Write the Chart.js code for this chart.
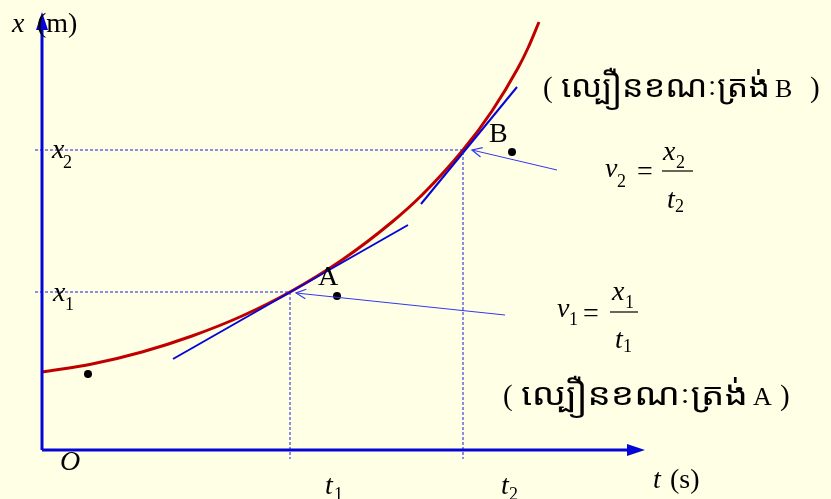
<!DOCTYPE html>
<html>
<head>
<meta charset="utf-8">
<script src="https://cdn.jsdelivr.net/npm/chart.js@4"></script>
<style>
  html, body { margin: 0; padding: 0; background: #ffffe6; }
  canvas { display: block; }
</style>
</head>
<body>
<canvas id="motion" width="831" height="499"></canvas>
<script>
// x(t) curve (t and x in arbitrary units)
const curveT = [0, 5, 10, 15, 20, 24.8, 30, 35, 38, 42.1, 45, 47.6, 48.6, 49.7];
const curveX = [7.8, 8.6, 9.8, 11.4, 13.4, 15.8, 19.0, 22.8, 25.5, 30.0, 33.9, 38.2, 40.2, 42.8];
// tangent segments at A and B
const tangentAT = [13.1, 36.6];
const tangentAX = [9.1, 22.5];
const tangentBT = [37.9, 47.5];
const tangentBX = [24.6, 36.3];
// points A and B (t1,x1), (t2,x2)
const pointT = [24.8, 42.1];
const pointX = [15.8, 30.0];
// black dots
const dotT = [4.6, 29.5, 47.0];
const dotX = [7.6, 15.4, 29.8];
// thin pointer arrows (from label to point)
const arrowFromT = [46.3, 51.5];
const arrowFromX = [13.5, 28.0];
const arrowToT = [25.4, 43.0];
const arrowToX = [15.7, 30.0];
// axis lengths
const axisEndT = 60.3;
const axisEndX = 43.8;

const khmer = "ល្បឿនខណៈត្រង់";
const BLUE = "#0505d8";
const SERIF = "'Liberation Serif', 'DejaVu Serif', serif";

function pts(ts, xs) {
  return ts.map((t, i) => ({ x: t, y: xs[i] }));
}

const datasets = [
  {
    data: [{ x: 0, y: 0 }, { x: axisEndT - 1.5, y: 0 }],
    borderColor: BLUE, borderWidth: 3,
  },
  {
    data: [{ x: 0, y: 0 }, { x: 0, y: axisEndX - 1.5 }],
    borderColor: BLUE, borderWidth: 3,
  },
];
pointT.forEach((t, i) => {
  datasets.push({
    data: [{ x: -0.7, y: pointX[i] }, { x: t, y: pointX[i] }, { x: t, y: -0.9 }],
    borderColor: "#1a1ae0", borderWidth: 1, borderDash: [3, 2],
  });
});
datasets.push(
  { data: pts(tangentAT, tangentAX), borderColor: BLUE, borderWidth: 2 },
  { data: pts(tangentBT, tangentBX), borderColor: BLUE, borderWidth: 2 },
  { data: pts(curveT, curveX), borderColor: "#c00000", borderWidth: 3, cubicInterpolationMode: "monotone" }
);
arrowFromT.forEach((t, i) => {
  datasets.push({
    data: [{ x: t, y: arrowFromX[i] }, { x: arrowToT[i], y: arrowToX[i] }],
    borderColor: "#3535f5", borderWidth: 1,
  });
});
datasets.push({
  data: pts(dotT, dotX),
  showLine: false, pointRadius: 4, pointBackgroundColor: "#000", pointBorderWidth: 0,
});

// text labels: [text, t, x, size, italic]
const labels = [
  ["x", -3.0, 41.8, 28, true],
  ["(m)", -0.5, 41.8, 28, false],
  ["O", 1.8, -2.0, 28, true],
  ["t", 61.1, -3.8, 28, true],
  ["(s)", 62.8, -3.8, 28, false],
  ["t", 28.3, -4.4, 28, true],
  ["1", 29.2, -4.95, 18, false],
  ["t", 45.9, -4.4, 28, true],
  ["2", 46.7, -4.95, 18, false],
  ["x", 1.0, 29.2, 28, true],
  ["2", 2.1, 28.2, 18, false],
  ["x", 1.1, 14.9, 28, true],
  ["1", 2.3, 14.0, 18, false],
  ["A", 27.6, 16.5, 28, false],
  ["B", 44.7, 30.8, 28, false],
  // v2 = x2 / t2
  ["v", 56.3, 27.3, 28, true],
  ["2", 57.5, 26.3, 18, false],
  ["=", 59.5, 27.0, 28, false],
  ["x", 62.1, 29.0, 28, true],
  ["2", 63.4, 28.2, 18, false],
  ["t", 62.5, 24.2, 28, true],
  ["2", 63.3, 23.8, 18, false],
  // v1 = x1 / t1
  ["v", 51.5, 13.3, 28, true],
  ["1", 52.7, 12.5, 18, false],
  ["=", 54.1, 12.8, 28, false],
  ["x", 57.0, 15.0, 28, true],
  ["1", 58.3, 14.2, 18, false],
  ["t", 57.3, 10.2, 28, true],
  ["1", 58.1, 9.8, 18, false],
];
const fractionBars = [[62.0, 65.1, 27.9], [56.8, 59.6, 13.8]];
// Khmer captions: [letter, t of "(", t start, t end of Khmer word, t letter, t ")", baseline x]
const captions = [
  ["B", 50.1, 51.9, 72.8, 73.3, 76.8, 35.3],
  ["A", 46.1, 47.9, 70.6, 71.1, 73.8, 4.5],
];

const drawExtras = {
  id: "drawExtras",
  afterDatasetsDraw(chart) {
    const ctx = chart.ctx;
    const sx = chart.scales.x, sy = chart.scales.y;
    const px = (t) => sx.getPixelForValue(t);
    const py = (x) => sy.getPixelForValue(x);
    ctx.save();

    // axis arrow heads
    ctx.fillStyle = BLUE;
    const ox = px(0), oy = py(0);
    const tipX = px(axisEndT), tipY = py(axisEndX);
    ctx.beginPath();
    ctx.moveTo(tipX, oy);
    ctx.lineTo(tipX - 18, oy - 6);
    ctx.lineTo(tipX - 18, oy + 6);
    ctx.closePath();
    ctx.fill();
    ctx.beginPath();
    ctx.moveTo(ox, tipY);
    ctx.lineTo(ox - 6, tipY + 18);
    ctx.lineTo(ox + 6, tipY + 18);
    ctx.closePath();
    ctx.fill();

    // pointer arrow heads (open)
    ctx.strokeStyle = "#3535f5";
    ctx.lineWidth = 1.2;
    arrowToT.forEach((t, i) => {
      const x2 = px(t), y2 = py(arrowToX[i]);
      const x1 = px(arrowFromT[i]), y1 = py(arrowFromX[i]);
      const a = Math.atan2(y2 - y1, x2 - x1);
      ctx.beginPath();
      ctx.moveTo(x2 - 11 * Math.cos(a - 0.45), y2 - 11 * Math.sin(a - 0.45));
      ctx.lineTo(x2, y2);
      ctx.lineTo(x2 - 11 * Math.cos(a + 0.45), y2 - 11 * Math.sin(a + 0.45));
      ctx.stroke();
    });

    // text
    ctx.fillStyle = "#000";
    ctx.textBaseline = "alphabetic";
    ctx.textAlign = "left";
    labels.forEach(([txt, t, x, size, italic]) => {
      ctx.font = (italic ? "italic " : "") + size + "px " + SERIF;
      ctx.fillText(txt, px(t), py(x));
    });

    // fraction bars
    ctx.strokeStyle = "#000";
    ctx.lineWidth = 1.2;
    fractionBars.forEach(([t0, t1, x]) => {
      ctx.beginPath();
      ctx.moveTo(px(t0), py(x));
      ctx.lineTo(px(t1), py(x));
      ctx.stroke();
    });

    // Khmer captions
    captions.forEach(([letter, tOpen, tStart, tEnd, tLetter, tClose, x]) => {
      const base = py(x);
      ctx.font = "29px " + SERIF;
      ctx.fillText("(", px(tOpen), base);
      ctx.fillText(")", px(tClose), base);
      ctx.font = "26px " + SERIF;
      ctx.fillText(letter, px(tLetter), base);
      ctx.font = "28px 'Noto Sans Khmer', 'Khmer OS', 'DejaVu Sans', sans-serif";
      const w = ctx.measureText(khmer).width;
      const target = px(tEnd) - px(tStart);
      ctx.save();
      ctx.translate(px(tStart), base);
      ctx.scale(w > 0 ? target / w : 1, 1.08);
      ctx.fillText(khmer, 0, 0);
      ctx.restore();
    });

    ctx.restore();
  },
};

new Chart(document.getElementById("motion"), {
  type: "scatter",
  data: { datasets: datasets.map((d) => Object.assign({ showLine: true, pointRadius: 0, fill: false }, d)) },
  options: {
    responsive: false,
    animation: false,
    layout: { padding: 0, autoPadding: false },
    plugins: { legend: { display: false }, tooltip: { enabled: false } },
    scales: {
      x: { type: "linear", min: -4.2, max: 78.9, display: false },
      y: { type: "linear", min: -4.9, max: 45.0, display: false },
    },
  },
  plugins: [drawExtras],
});
</script>
</body>
</html>
